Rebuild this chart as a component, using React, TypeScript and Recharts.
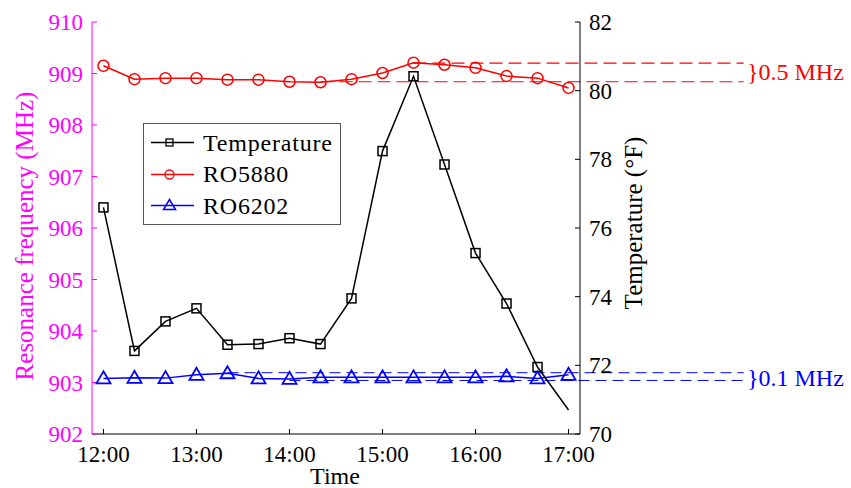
import React from 'react';
import { LineChart, Line, XAxis, YAxis, ReferenceLine, Legend } from 'recharts';

// minutes after 12:00, one reading every 20 min
const minutes = [0, 20, 40, 60, 80, 100, 120, 140, 160, 180, 200, 220, 240, 260, 280, 300];
const temperature = [76.6, 72.42, 73.28, 73.66, 72.6, 72.62, 72.79, 72.62, 73.95, 78.24, 80.42, 77.85, 75.27, 73.8, 71.95, 70.7];
const ro5880 = [909.15, 908.89, 908.91, 908.91, 908.88, 908.88, 908.84, 908.83, 908.89, 909.01, 909.21, 909.17, 909.11, 908.95, 908.91, 908.72];
const ro6202 = [903.08, 903.09, 903.085, 903.15, 903.18, 903.08, 903.07, 903.1, 903.1, 903.1, 903.1, 903.1, 903.1, 903.12, 903.08, 903.15];

const xTicks = [0, 60, 120, 180, 240, 300];
const xTickLabels = ['12:00', '13:00', '14:00', '15:00', '16:00', '17:00'];
const freqTicks = [902, 903, 904, 905, 906, 907, 908, 909, 910];
const tempTicks = [70, 72, 74, 76, 78, 80, 82];
const legendOrder = ['temperature', 'ro5880', 'ro6202'];

// dashed guide lines marking the spread of each resonator
const redBand = { upper: 909.2, lower: 908.84, upperFrom: 200, lowerFrom: 140, to: 413 };
const blueBand = { upper: 903.19, lower: 903.04, upperFrom: 80, lowerFrom: 120, to: 413 };

const data = minutes.map((m, i) => ({
    t: m,
    temperature: temperature[i],
    ro5880: ro5880[i],
    ro6202: ro6202[i],
}));

const FONT = 'Liberation Serif';
const MAGENTA = '#ff00ff';
const RED = '#ff0000';
const BLUE = '#0000ff';

const makeTick = (anchor: 'start' | 'middle' | 'end', dy: string, color: string, fmt?: (v: number) => string) =>
    (props: any) => {
        const { x, y, payload } = props;
        return (
            <text x={x} y={y} dy={dy} textAnchor={anchor} fill={color} fontSize={23} style={{ fontFamily: FONT }}>
                {fmt ? fmt(payload.value) : payload.value}
            </text>
        );
    };

const timeTick = makeTick('middle', '0.71em', '#000', (v) => xTickLabels[xTicks.indexOf(v)]);
const freqTick = makeTick('end', '0.355em', MAGENTA);
const tempTick = makeTick('start', '0.355em', '#000');

const SquareDot = (props: any) => {
    const { cx, cy, index } = props;
    if (index === minutes.length - 1 || cx == null) return <g key={`sq-${index}`} />;
    return <rect key={`sq-${index}`} x={cx - 4.5} y={cy - 4.5} width={9} height={9} fill="none" stroke="#000" strokeWidth={1.5} />;
};

const CircleDot = (props: any) => {
    const { cx, cy, index } = props;
    return <circle key={`ci-${index}`} cx={cx} cy={cy} r={5.5} fill="none" stroke={RED} strokeWidth={1.5} />;
};

const TriangleDot = (props: any) => {
    const { cx, cy, index } = props;
    return (
        <polygon
            key={`tr-${index}`}
            points={`${cx},${cy - 7} ${cx - 7},${cy + 5} ${cx + 7},${cy + 5}`}
            fill="none"
            stroke={BLUE}
            strokeWidth={1.8}
        />
    );
};

const legendMarker = (key: string, color: string) => {
    if (key === 'temperature') return <rect x={18} y={7} width={7} height={7} fill="none" stroke={color} strokeWidth={1.3} />;
    if (key === 'ro5880') return <circle cx={21.5} cy={10.5} r={4.5} fill="none" stroke={color} strokeWidth={1.3} />;
    return <polygon points="21.5,4.5 15.5,14.5 27.5,14.5" fill="none" stroke={color} strokeWidth={1.5} />;
};

const LegendBox = (props: any) => {
    const items = [...(props.payload || [])].sort(
        (a: any, b: any) => legendOrder.indexOf(a.dataKey) - legendOrder.indexOf(b.dataKey)
    );
    return (
        <div style={{ border: '1px solid #555', background: '#fff', width: 196, height: 97, paddingTop: 3, boxSizing: 'content-box', fontFamily: FONT }}>
            {items.map((p: any) => (
                <div key={p.dataKey} style={{ display: 'flex', alignItems: 'center', height: 31.5 }}>
                    <svg width={55} height={21} style={{ marginLeft: 4 }}>
                        <line x1={3} y1={10.5} x2={46} y2={10.5} stroke={p.color} strokeWidth={1.5} />
                        {legendMarker(p.dataKey, p.color)}
                    </svg>
                    <span style={{ fontSize: 24, letterSpacing: 0.8, color: '#000', lineHeight: '24px' }}>{p.value}</span>
                </div>
            ))}
        </div>
    );
};

const App: React.FC = () => {
    return (
        <div style={{ position: 'absolute', left: 0, top: 0, width: 851, height: 488, fontFamily: FONT, background: '#fff' }}>
            <LineChart width={851} height={488} data={data} margin={{ top: 22, right: 211, left: 0, bottom: 24 }}>
                <XAxis
                    xAxisId="bottom"
                    dataKey="t"
                    type="number"
                    domain={[-7.4, 307.4]}
                    ticks={xTicks}
                    height={30}
                    stroke="#000"
                    tickSize={-5}
                    tickMargin={17}
                    tick={timeTick}
                />
                <XAxis
                    xAxisId="top"
                    orientation="top"
                    dataKey="t"
                    type="number"
                    domain={[-7.4, 307.4]}
                    ticks={xTicks}
                    height={0}
                    stroke="#000"
                    tickSize={-5}
                    tick={false}
                />
                <YAxis
                    yAxisId="left"
                    type="number"
                    domain={[902, 910]}
                    ticks={freqTicks}
                    width={92}
                    stroke={MAGENTA}
                    tickSize={-5}
                    tickMargin={14}
                    tick={freqTick}
                />
                <YAxis
                    yAxisId="right"
                    orientation="right"
                    type="number"
                    domain={[70, 82]}
                    ticks={tempTicks}
                    width={60}
                    stroke="#000"
                    tickSize={-5}
                    tickMargin={14}
                    tick={tempTick}
                />

                <ReferenceLine xAxisId="bottom" yAxisId="left" ifOverflow="visible" stroke={RED} strokeWidth={1.3} strokeDasharray="13 6"
                    segment={[{ x: redBand.upperFrom, y: redBand.upper }, { x: redBand.to, y: redBand.upper }]} />
                <ReferenceLine xAxisId="bottom" yAxisId="left" ifOverflow="visible" stroke={RED} strokeWidth={1} strokeDasharray="13 6"
                    segment={[{ x: redBand.lowerFrom, y: redBand.lower }, { x: redBand.to, y: redBand.lower }]} />
                <ReferenceLine xAxisId="bottom" yAxisId="left" ifOverflow="visible" stroke={BLUE} strokeWidth={1} strokeDasharray="11 6"
                    segment={[{ x: blueBand.upperFrom, y: blueBand.upper }, { x: blueBand.to, y: blueBand.upper }]} />
                <ReferenceLine xAxisId="bottom" yAxisId="left" ifOverflow="visible" stroke={BLUE} strokeWidth={1} strokeDasharray="11 6"
                    segment={[{ x: blueBand.lowerFrom, y: blueBand.lower }, { x: blueBand.to, y: blueBand.lower }]} />

                <Line xAxisId="bottom" yAxisId="right" dataKey="temperature" name="Temperature" stroke="#000" strokeWidth={1.5}
                    dot={SquareDot} activeDot={false} isAnimationActive={false} />
                <Line xAxisId="bottom" yAxisId="left" dataKey="ro5880" name="RO5880" stroke={RED} strokeWidth={1.5}
                    dot={CircleDot} activeDot={false} isAnimationActive={false} />
                <Line xAxisId="bottom" yAxisId="left" dataKey="ro6202" name="RO6202" stroke={BLUE} strokeWidth={1.5}
                    dot={TriangleDot} activeDot={false} isAnimationActive={false} />

                <Legend layout="vertical" align="center" verticalAlign="middle" content={LegendBox}
                    wrapperStyle={{ left: 143, top: 123, width: 198, height: 99 }} />
            </LineChart>

            <svg width={851} height={488} style={{ position: 'absolute', left: 0, top: 0, pointerEvents: 'none', fontFamily: FONT }}>
                <text transform="translate(33,236) rotate(-90)" textAnchor="middle" fontSize={25} fill={MAGENTA}>Resonance frequency (MHz)</text>
                <text transform="translate(642,223) rotate(-90)" textAnchor="middle" fontSize={25} fill="#000">Temperature (°F)</text>
                <text x={335} y={484} textAnchor="middle" fontSize={24} fill="#000">Time</text>
                <text x={747} y={80} fontSize={24} fill={RED}>{'}0.5 MHz'}</text>
                <text x={747} y={386} fontSize={24} fill={BLUE}>{'}0.1 MHz'}</text>
            </svg>
        </div>
    );
};

export default App;
